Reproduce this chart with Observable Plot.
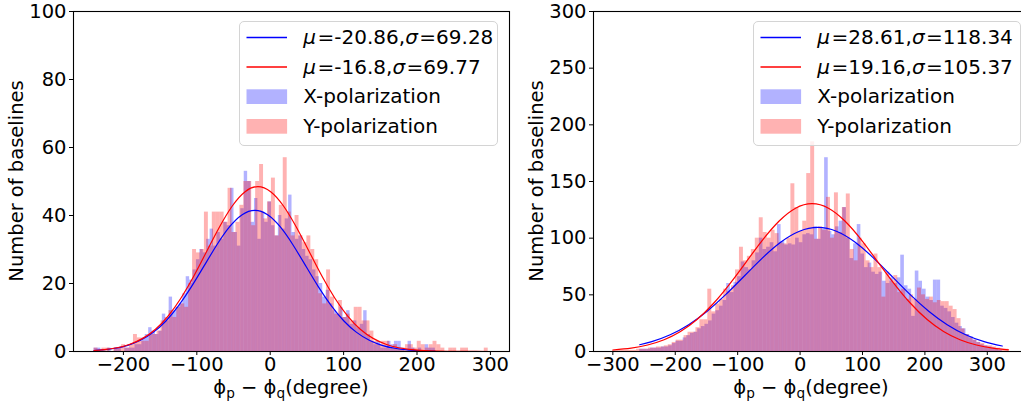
<!DOCTYPE html>
<html><head><meta charset="utf-8">
<script src="https://cdn.jsdelivr.net/npm/d3@7"></script>
<script src="https://cdn.jsdelivr.net/npm/@observablehq/plot@0.6"></script>
<style>
html,body{margin:0;padding:0;background:#fff;overflow:hidden;width:1021px;height:403px;}
#fig{position:relative;width:1021px;height:403px;overflow:hidden;font-family:"DejaVu Sans",sans-serif;color:#000;}
.panel{position:absolute;top:0;width:520px;height:403px;}
.lbl{position:absolute;font-size:19.5px;line-height:1;white-space:nowrap;}
.ylab{transform:translate(-50%,-50%) rotate(-90deg);}
.xlab{transform:translateX(-50%);}
.sub{font-size:70%;position:relative;top:0.28em;}
.legend{position:absolute;border:1px solid #d4d4d4;border-radius:5px;background:rgba(255,255,255,0.8);box-sizing:border-box;}
.lg-handles{position:absolute;left:0;top:0;}
.lg-text{position:absolute;font-size:20px;line-height:1;white-space:nowrap;}
.lg-text i{margin-right:1.5px;}
</style>
</head><body>
<div id="fig"></div>
<script>
// ---------- data ----------
const leftXRange = [-240, 225];   // X-polarization bin range, left panel (100 bins)
const leftYRange = [-240, 297];   // Y-polarization bin range, left panel
const rightXRange = [-257, 324];
const rightYRange = [-300, 334];

const leftXCounts = [1,1,0,0,1,0,1,1,0,1,
 1,1,2,2,4,5,7,6,5,6,
 11,9,16,12,13,14,17,22,21,24,
 27,30,29,33,36,31,35,33,38,37,
 48,35,31,42,53,50,38,45,33,41,
 38,44,37,34,40,36,39,46,35,33,
 34,30,28,27,24,22,20,16,18,14,
 12,11,13,10,12,8,9,7,8,12,
 5,3,2,3,1,1,3,2,3,3,
 1,0,3,1,0,1,0,2,1,1];

const leftYCounts = [1,0,1,1,0,1,1,2,1,2,
 5,4,3,3,5,5,6,9,10,12,
 10,13,14,13,20,30,29,30,41,31,
 41,41,41,38,48,35,38,43,50,50,
 37,50,55,39,44,51,34,43,57,41,
 34,40,34,32,34,30,27,17,14,24,
 16,11,15,10,11,9,13,13,9,9,
 6,3,2,3,3,1,2,1,1,2,
 2,1,3,2,1,2,3,2,1,0,
 1,1,0,1,1,0,0,0,0,1];

const rightXCounts = [2,2,2,3,3,3,4,4,5,7,
 9,9,12,14,16,17,20,22,24,27,
 33,36,40,45,60,52,61,66,79,74,
 72,80,87,100,90,92,96,88,112,97,
 94,95,94,100,96,103,104,103,110,99,
 108,171,106,103,110,115,127,100,82,95,
 112,86,74,78,70,68,70,62,60,65,
 60,65,85,58,55,31,71,62,55,48,
 45,63,63,40,38,35,30,25,22,20,
 15,13,10,8,6,5,4,3,2,1];

const rightYCounts = [1,1,1,1,1,1,2,2,2,3,
 3,4,4,5,6,8,10,10,14,17,
 17,21,28,28,55,35,42,46,55,53,
 58,72,92,80,84,90,100,118,105,100,
 107,104,96,95,100,148,127,106,115,157,
 185,99,110,107,136,100,140,105,127,139,
 90,80,100,95,80,74,86,74,48,70,
 62,67,52,55,46,50,46,56,50,46,
 48,43,45,44,44,40,37,29,20,15,
 12,10,8,7,5,5,4,3,2,2];

// fitted normal curves
const leftXFitX = [-240,-228.7,-211.4,-194.1,-176.7,-159.4,-142.1,-124.8,-107.5,-90.1,-72.8,-55.5,-38.2,-20.86,-3.5,13.8,31.1,48.4,65.7,83.1,100.4,117.7,135,152.3,169.6,187,204.3,225];
const leftXFitY = [0.28,0.46,0.95,1.82,3.30,5.62,8.98,13.48,19.0,25.17,31.32,36.62,40.22,41.5,40.22,36.62,31.32,25.17,19.0,13.48,8.98,5.62,3.30,1.82,0.95,0.46,0.21,0.08];
const leftYFitX = [-240,-226.1,-208.7,-191.2,-173.8,-156.3,-138.9,-121.5,-104,-86.6,-69.1,-51.7,-34.2,-16.8,0.6,18.1,35.5,53,70.4,87.9,105.3,122.7,140.2,157.6,175.1,192.5,210,227.4,244.8,262.3,280,297];
const leftYFitY = [0.29,0.54,1.11,2.13,3.86,6.56,10.49,15.75,22.2,29.42,36.61,42.8,47.0,48.5,47.0,42.8,36.61,29.42,22.2,15.75,10.49,6.56,3.86,2.13,1.11,0.54,0.25,0.11,0.04,0.02,0.01,0.0];
const rightXFitX = [-257,-237.6,-208.1,-178.5,-148.9,-119.3,-89.7,-60.1,-30.6,-1,28.6,58.2,87.8,117.4,147,176.5,206.1,235.7,265.3,294.9,324];
const rightXFitY = [5.95,8.72,14.82,23.69,35.55,50.13,66.41,82.65,96.63,106.13,109.5,106.13,96.63,82.65,66.41,50.13,35.55,23.69,14.82,8.72,4.85];
const rightYFitX = [-300,-270.6,-244.3,-217.9,-191.6,-165.2,-138.9,-112.6,-86.2,-59.9,-33.5,-7.2,19.16,45.5,71.8,98.2,124.5,150.9,177.2,203.6,229.9,256.2,282.6,308.9,334];
const rightYFitY = [1.33,2.98,5.73,10.39,17.66,28.23,42.37,59.74,79.15,98.5,115.17,126.48,130.5,126.48,115.17,98.5,79.15,59.74,42.37,28.23,17.66,10.39,5.73,2.98,1.5];

const leftXTicks = [-200,-100,0,100,200,300];
const leftYTicks = [0,20,40,60,80,100];
const rightXTicks = [-300,-200,-100,0,100,200,300];
const rightYTicks = [0,50,100,150,200,250,300];

const leftFitLabels = [["-20.86","69.28"],["-16.8","69.77"]];
const rightFitLabels = [["28.61","118.34"],["19.16","105.37"]];
const seriesNames = ["X-polarization","Y-polarization"];
const yAxisTitle = "Number of baselines";

// ---------- helpers ----------
function bins(range, counts){
  const w = (range[1]-range[0])/counts.length;
  return counts.map((c,i)=>({x1: range[0]+i*w, x2: range[0]+(i+1)*w, y: c}));
}
function pts(xs, ys){ return xs.map((x,i)=>({x, y: ys[i]})); }

const BLUE = "#0000ff", RED = "#ff0000";

function panel(o){
  return Plot.plot({
    width: 520, height: 403,
    marginLeft: 73, marginRight: o.mr, marginTop: 11, marginBottom: 52,
    x: {domain: o.xdom, ticks: o.xticks, tickSize: 4, tickPadding: 2, label: null},
    y: {domain: o.ydom, ticks: o.yticks, tickSize: 4, tickPadding: 3, label: null},
    style: {fontFamily: "DejaVu Sans", fontSize: "19.5px", color: "#000", background: "transparent", overflow: "visible"},
    marks: [
      Plot.rect(bins(o.xr, o.xc), {x1:"x1", x2:"x2", y1:0, y2:"y", fill: BLUE, fillOpacity: 0.3, inset: 0}),
      Plot.rect(bins(o.yr, o.yc), {x1:"x1", x2:"x2", y1:0, y2:"y", fill: RED, fillOpacity: 0.3, inset: 0}),
      Plot.line(pts(o.xfx, o.xfy), {x:"x", y:"y", stroke: BLUE, strokeWidth: 1.2, curve: "natural"}),
      Plot.line(pts(o.yfx, o.yfy), {x:"x", y:"y", stroke: RED, strokeWidth: 1.2, curve: "natural"}),
      Plot.frame({stroke: "#000", strokeWidth: 1.1})
    ]
  });
}

const fig = document.getElementById("fig");
const NS = "http://www.w3.org/2000/svg";

function addPanel(left, o, labels, legendLeft, legendWidth){
  const wrap = document.createElement("div");
  wrap.className = "panel";
  wrap.style.left = left + "px";
  wrap.appendChild(panel(o));
  fig.appendChild(wrap);

  const yl = document.createElement("div");
  yl.className = "lbl ylab";
  yl.style.left = (left + 17) + "px";
  yl.style.top = "181px";
  yl.textContent = yAxisTitle;
  fig.appendChild(yl);

  const xl = document.createElement("div");
  xl.className = "lbl xlab";
  xl.style.left = (left + o.xcenter) + "px";
  xl.style.top = "378px";
  xl.innerHTML = 'ϕ<span class="sub">p</span> − ϕ<span class="sub">q</span>(degree)';
  fig.appendChild(xl);

  const lg = document.createElement("div");
  lg.className = "legend";
  lg.style.left = legendLeft + "px";
  lg.style.top = "21px";
  lg.style.width = legendWidth + "px";
  lg.style.height = "125px";

  const svg = document.createElementNS(NS, "svg");
  svg.setAttribute("class", "lg-handles");
  svg.setAttribute("width", "60");
  svg.setAttribute("height", "123");
  const handleColors = [BLUE, RED];
  const lineYs = [15.5, 45];
  handleColors.forEach((c, i)=>{
    const l = document.createElementNS(NS, "line");
    l.setAttribute("x1", "6.5"); l.setAttribute("x2", "47");
    l.setAttribute("y1", lineYs[i]); l.setAttribute("y2", lineYs[i]);
    l.setAttribute("stroke", c); l.setAttribute("stroke-width", "1.3");
    svg.appendChild(l);
    const r = document.createElementNS(NS, "rect");
    r.setAttribute("x", "6.5"); r.setAttribute("width", "40.6");
    r.setAttribute("y", 67.3 + i*29.7); r.setAttribute("height", "14.7");
    r.setAttribute("fill", c); r.setAttribute("fill-opacity", "0.3");
    svg.appendChild(r);
  });
  lg.appendChild(svg);

  const rowTops = [5, 34.7, 64.4, 94.1];
  labels.forEach((lab, i)=>{
    const t = document.createElement("div");
    t.className = "lg-text";
    t.style.left = "63px"; t.style.top = rowTops[i] + "px";
    t.innerHTML = '<i>μ</i>=' + lab[0] + ',<i>σ</i>=' + lab[1];
    lg.appendChild(t);
  });
  seriesNames.forEach((nm, i)=>{
    const t = document.createElement("div");
    t.className = "lg-text";
    t.style.left = "63px"; t.style.top = rowTops[i+2] + "px";
    t.textContent = nm;
    lg.appendChild(t);
  });
  fig.appendChild(lg);
}

addPanel(0, {
  mr: 11, xdom: [-268, 326], ydom: [0, 100], xticks: leftXTicks, yticks: leftYTicks,
  xr: leftXRange, xc: leftXCounts, yr: leftYRange, yc: leftYCounts,
  xfx: leftXFitX, xfy: leftXFitY, yfx: leftYFitX, yfy: leftYFitY, xcenter: 291
}, leftFitLabels, 239.3, 259);

addPanel(520, {
  mr: 12, xdom: [-331, 366], ydom: [0, 300], xticks: rightXTicks, yticks: rightYTicks,
  xr: rightXRange, xc: rightXCounts, yr: rightYRange, yc: rightYCounts,
  xfx: rightXFitX, xfy: rightXFitY, yfx: rightYFitX, yfy: rightYFitY, xcenter: 291
}, rightFitLabels, 753.3, 268);
</script>
</body></html>
